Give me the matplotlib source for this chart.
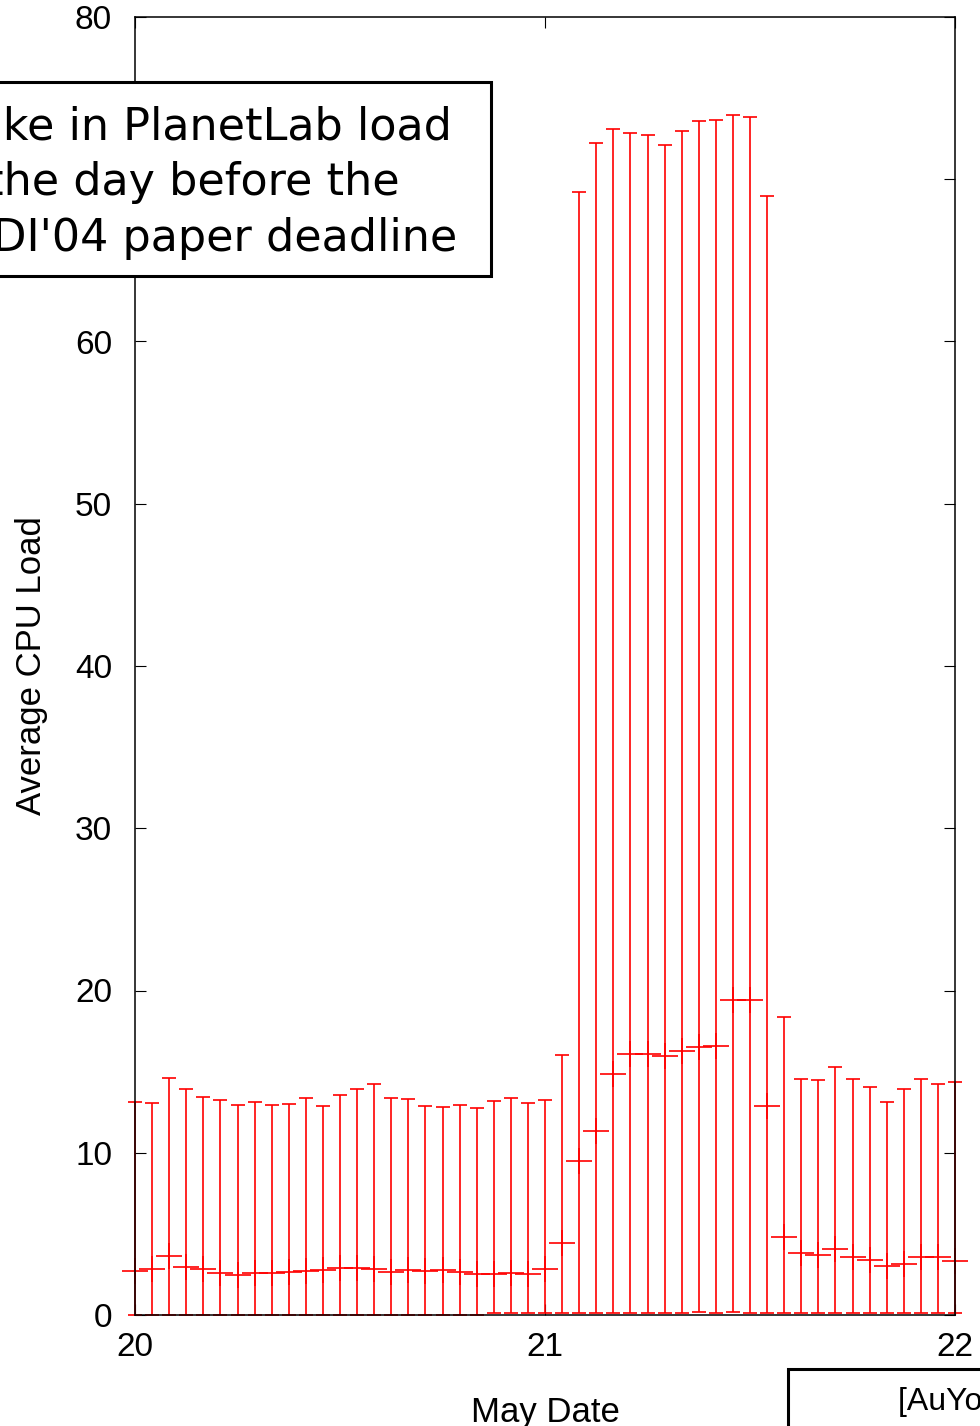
import numpy as np
import matplotlib
matplotlib.use("Agg")
import matplotlib.pyplot as plt
from matplotlib.patches import Rectangle

plt.rcParams['font.family'] = ['Liberation Sans', 'DejaVu Sans']

# hourly samples from May 20 00:00 to May 22 00:00
hours = np.arange(49)
load_max = [13.13, 13.05, 14.59, 13.91, 13.46, 13.27, 12.96, 13.11, 12.96, 13.00,
            13.40, 12.90, 13.56, 13.93, 14.24, 13.40, 13.29, 12.88, 12.84, 12.94,
            12.78, 13.21, 13.37, 13.05, 13.23, 16.02, 69.23, 72.21, 73.10, 72.83,
            72.70, 72.09, 72.97, 73.59, 73.63, 73.94, 73.84, 68.97, 18.37, 14.57,
            14.49, 15.30, 14.57, 14.03, 13.13, 13.93, 14.57, 14.26, 14.38]
load_avg = [2.71, 2.83, 3.64, 2.98, 2.86, 2.57, 2.47, 2.57, 2.61, 2.65,
            2.73, 2.80, 2.92, 2.90, 2.84, 2.63, 2.80, 2.71, 2.80, 2.63,
            2.53, 2.53, 2.59, 2.55, 2.81, 4.46, 9.51, 11.34, 14.85, 16.07,
            16.07, 15.98, 16.27, 16.54, 16.60, 19.41, 19.41, 12.90, 4.79, 3.80,
            3.70, 4.07, 3.60, 3.37, 3.02, 3.14, 3.60, 3.55, 3.33]
load_min = [0.0, 0.0, 0.0, 0.0, 0.0, 0.0, 0.0, 0.0, 0.0, 0.0,
            0.0, 0.0, 0.0, 0.0, 0.0, 0.0, 0.0, 0.0, 0.0, 0.0,
            0.0, 0.1, 0.1, 0.1, 0.1, 0.1, 0.1, 0.1, 0.1, 0.1,
            0.1, 0.1, 0.1, 0.2, 0.1, 0.2, 0.1, 0.1, 0.1, 0.1,
            0.1, 0.1, 0.1, 0.1, 0.1, 0.1, 0.1, 0.1, 0.1]
yticks = [0, 10, 20, 30, 40, 50, 60, 70, 80]
# the 70 label sits under the annotation box in the original
ylabels = ['0', '10', '20', '30', '40', '50', '60', '', '80']

x = 20 + hours / 24.0
avg = np.array(load_avg)
yerr = [avg - np.array(load_min), np.array(load_max) - avg]

W, H = 980, 1426
fig = plt.figure(figsize=(W / 100, H / 100), dpi=100)
ax = fig.add_axes([135 / W, 1 - 1315 / H, 820 / W, 1298 / H])

eb = ax.errorbar(x, avg, yerr=yerr, fmt='+', color='red', ecolor='red',
                 elinewidth=1.2, capsize=4.7, capthick=1.2,
                 markersize=19, markeredgewidth=1.2)
for art in eb.lines[0:1] + tuple(eb.lines[1]) + tuple(eb.lines[2]):
    if art is not None:
        art.set_clip_on(False)

ax.set_xlim(20, 22)
ax.set_ylim(0, 80)
ax.set_xticks([20, 21, 22])
ax.set_yticks(yticks)
ax.set_yticklabels(ylabels)
ax.tick_params(direction='in', length=8, width=0.8, top=True, right=True,
               labelsize=24)
ax.tick_params(axis='y', pad=16.5)
ax.tick_params(axis='x', pad=12)
for s in ax.spines.values():
    s.set_linewidth(1.1)

ax.set_xlabel("May Date", fontsize=25)
ax.set_ylabel("Average CPU Load", fontsize=25)
ax.xaxis.set_label_coords(0.5, -0.0624)
ax.yaxis.set_label_coords(-0.106, 0.5)

# annotation box (cut off at left edge)
fig.add_artist(Rectangle((-30 / W, 1 - 276 / H), 521 / W, 194 / H,
                         transform=fig.transFigure, facecolor='white',
                         edgecolor='black', linewidth=2.2, zorder=5))
fig.text(193 / W, 1 - 183 / H,
         "Spike in PlanetLab load\nthe day before the\nOSDI'04 paper deadline",
         ha='center', va='center', fontsize=32, family='DejaVu Sans',
         linespacing=1.36, zorder=6)

# citation box (cut off at right / bottom edge)
fig.add_artist(Rectangle((788 / W, 1 - 1440 / H), 250 / W, 71 / H,
                         transform=fig.transFigure, facecolor='white',
                         edgecolor='black', linewidth=2.2, zorder=5))
fig.text(898 / W, 1 - 1410 / H, "[AuYoung et al.]", ha='left',
         va='baseline', fontsize=23, zorder=6)

fig.savefig("out.png", dpi=100)
